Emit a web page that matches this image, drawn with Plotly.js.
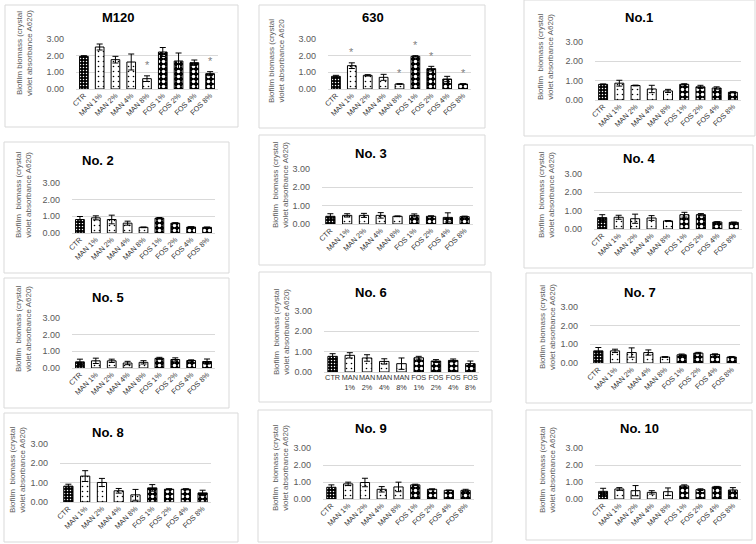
<!DOCTYPE html>
<html><head><meta charset="utf-8">
<script src="https://cdn.plot.ly/plotly-3.0.1.min.js"></script>
<style>html,body{margin:0;padding:0;background:#fff}#chart{width:756px;height:544px}</style>
</head><body><div id="chart"></div>
<script>
// ---- data ----
const categories = ['CTR','MAN 1%','MAN 2%','MAN 4%','MAN 8%','FOS 1%','FOS 2%','FOS 4%','FOS 8%'];
const wrappedTicks = ['CTR','MAN<br>1%','MAN<br>2%','MAN<br>4%','MAN<br>8%','FOS<br>1%','FOS<br>2%','FOS<br>4%','FOS<br>8%'];
const groups = ['ctr','man','man','man','man','fos','fos','fos','fos'];
const yTicks = [0,1,2,3];
const yTickText = ['0.00','1.00','2.00','3.00'];

const m120Mean = [1.96,2.52,1.76,1.62,0.62,2.22,1.68,1.58,0.92];
const m120Sd   = [0.04,0.18,0.20,0.48,0.17,0.27,0.48,0.16,0.12];
const m120Sig  = [0,0,0,0,1,0,0,0,1];
const s630Mean = [0.76,1.40,0.82,0.70,0.30,1.96,1.22,0.60,0.30];
const s630Sd   = [0.06,0.17,0.04,0.18,0.02,0.04,0.14,0.16,0.02];
const s630Sig  = [0,1,0,0,1,1,1,0,1];
const no1Mean  = [0.81,0.87,0.75,0.57,0.47,0.81,0.68,0.62,0.40];
const no1Sd    = [0.02,0.15,0.02,0.19,0.08,0.03,0.08,0.06,0.03];
const no2Mean  = [0.81,0.91,0.81,0.59,0.34,0.89,0.59,0.36,0.34];
const no2Sd    = [0.18,0.12,0.26,0.12,0.02,0.04,0.03,0.02,0.02];
const no3Mean  = [0.42,0.47,0.47,0.47,0.42,0.47,0.42,0.36,0.40];
const no3Sd    = [0.14,0.09,0.11,0.15,0.02,0.08,0.03,0.25,0.03];
const no4Mean  = [0.62,0.64,0.56,0.60,0.44,0.78,0.78,0.38,0.36];
const no4Sd    = [0.16,0.11,0.25,0.13,0.02,0.13,0.06,0.02,0.02];
const no5Mean  = [0.37,0.43,0.43,0.30,0.34,0.58,0.51,0.45,0.39];
const no5Sd    = [0.16,0.16,0.10,0.10,0.10,0.06,0.10,0.04,0.15];
const no6Mean  = [0.77,0.82,0.69,0.52,0.41,0.70,0.54,0.57,0.41];
const no6Sd    = [0.13,0.13,0.16,0.13,0.28,0.07,0.07,0.07,0.13];
const no7Mean  = [0.65,0.65,0.56,0.56,0.32,0.44,0.53,0.46,0.32];
const no7Sd    = [0.18,0.09,0.25,0.14,0.02,0.04,0.04,0.03,0.03];
const no8Mean  = [0.82,1.34,1.01,0.58,0.37,0.73,0.66,0.66,0.47];
const no8Sd    = [0.10,0.28,0.21,0.12,0.28,0.17,0.03,0.03,0.14];
const no9Mean  = [0.69,0.89,0.97,0.57,0.71,0.83,0.57,0.51,0.51];
const no9Sd    = [0.14,0.10,0.25,0.16,0.28,0.04,0.03,0.02,0.06];
const no10Mean = [0.45,0.59,0.49,0.39,0.43,0.77,0.55,0.71,0.53];
const no10Sd   = [0.18,0.08,0.30,0.10,0.22,0.06,0.05,0.03,0.14];
const noSig    = [0,0,0,0,0,0,0,0,0];

// ---- layout geometry (pixels) ----
const W = 756, H = 544;
const panels = [
  {title:'M120',  mean:m120Mean, sd:m120Sd, sig:m120Sig, box:[5,5,238,127],    px:[76,218],  py:[39,89],   tt:[118,18],  yt:[25,53],  ylab:'Biofilm biomass (crystal<br>violet absorbance A620)'},
  {title:'630',   mean:s630Mean, sd:s630Sd, sig:s630Sig, box:[259,5,485,128],  px:[328,471], py:[39,89],   tt:[373,18],  yt:[276,61], ylab:'Biofilm biomass (crystal<br>violet absorbance A620'},
  {title:'No.1',  mean:no1Mean,  sd:no1Sd,  sig:noSig,   box:[524,0,755,136],  px:[595,741], py:[42,100],  tt:[639,17],  yt:[546,57], ylab:'Biofilm  biomass (crystal<br>violet absorbance A620)'},
  {title:'No. 2', mean:no2Mean,  sd:no2Sd,  sig:noSig,   box:[4,142,229,273],  px:[72,215],  py:[183,233], tt:[98,160],  yt:[24,195], ylab:'Biofilm  biomass (crystal<br>violet absorbance A620)'},
  {title:'No. 3', mean:no3Mean,  sd:no3Sd,  sig:noSig,   box:[259,135,485,265],px:[322,473], py:[169,224], tt:[371,153], yt:[280,185],ylab:'Biofilm  biomass (crystal<br>violet absorbance A620)'},
  {title:'No. 4', mean:no4Mean,  sd:no4Sd,  sig:noSig,   box:[524,145,753,268],px:[594,742], py:[174,229], tt:[639,158], yt:[547,195],ylab:'Biofilm  biomass (crystal<br>violet absorbance A620)'},
  {title:'No. 5', mean:no5Mean,  sd:no5Sd,  sig:noSig,   box:[4,278,229,408],  px:[72,215],  py:[318,368], tt:[108,297], yt:[23,329], ylab:'Biofilm  biomass (crystal<br>violet absorbance A620)'},
  {title:'No. 6', mean:no6Mean,  sd:no6Sd,  sig:noSig,   box:[259,272,491,402],px:[324,479], py:[311,372], tt:[371,292], yt:[281,332],ylab:'Biofilm  biomass (crystal<br>violet absorbance A620)', wrap:true},
  {title:'No. 7', mean:no7Mean,  sd:no7Sd,  sig:noSig,   box:[526,273,752,403],px:[590,740], py:[307,363], tt:[640,292], yt:[547,327],ylab:'Biofilm biomass (crystal<br>violet absorbance A620)'},
  {title:'No. 8', mean:no8Mean,  sd:no8Sd,  sig:noSig,   box:[4,413,238,542],  px:[60,211],  py:[444,502], tt:[108,432], yt:[17,470], ylab:'Biofilm  biomass (crystal<br>violet absorbance A620)'},
  {title:'No. 9', mean:no9Mean,  sd:no9Sd,  sig:noSig,   box:[258,410,492,542],px:[323,474], py:[448,499], tt:[371,428], yt:[280,468],ylab:'Biofilm  biomass (crystal<br>violet absorbance A620)'},
  {title:'No. 10',mean:no10Mean, sd:no10Sd, sig:noSig,   box:[526,410,752,540],px:[595,741], py:[448,499], tt:[639,428], yt:[547,470],ylab:'Biofilm  biomass (crystal<br>violet absorbance A620)'}
];

const style = {
  ctr:{bg:'#000000', fg:'#ffffff', size:3, sol:0.2},
  man:{bg:'#ffffff', fg:'#000000', size:5, sol:0.08},
  fos:{bg:'#000000', fg:'#ffffff', size:5, sol:0.38}
};

const FONT = 'Liberation Sans, Arial, sans-serif';
const fx = p => p / W, fy = p => 1 - p / H;

const traces = [];
const layout = {
  width: W, height: H, margin:{l:0,r:0,t:0,b:0},
  paper_bgcolor:'#ffffff', plot_bgcolor:'rgba(0,0,0,0)',
  showlegend:false, hovermode:false, bargap:0.45, barmode:'overlay',
  font:{family:FONT, color:'#595959'},
  shapes:[], annotations:[]
};

panels.forEach((p, i) => {
  const n = i + 1;
  const xa = 'x' + (n === 1 ? '' : n), ya = 'y' + (n === 1 ? '' : n);
  layout.shapes.push({type:'rect', xref:'paper', yref:'paper', layer:'below',
    x0:fx(p.box[0]), x1:fx(p.box[2]), y0:fy(p.box[3]), y1:fy(p.box[1]),
    line:{color:'#d9d9d9', width:1}, fillcolor:'#ffffff'});
  ['ctr','man','fos'].forEach(g => {
    const idx = categories.map((c, k) => k).filter(k => groups[k] === g);
    const s = style[g];
    traces.push({
      type:'bar', x:idx.map(k => categories[k]), y:idx.map(k => p.mean[k]), xaxis:xa, yaxis:ya,
      marker:{
        color:s.bg, line:{color:'#000000', width:1},
        pattern:{shape:'.', fillmode:'replace', bgcolor:s.bg, fgcolor:s.fg, size:s.size, solidity:s.sol}
      },
      error_y:{type:'data', array:idx.map(k => p.sd[k]), visible:true, color:'#000000', thickness:1, width:3}
    });
  });
  // significance asterisks
  p.sig.forEach((s, k) => {
    if (s) layout.annotations.push({xref:xa, yref:ya, x:categories[k], y:p.mean[k] + p.sd[k] + 0.62,
      text:'*', showarrow:false, xanchor:'center', yanchor:'middle',
      font:{size:11, color:'#7f7f7f', family:FONT}});
  });

  const xKey = 'xaxis' + (n === 1 ? '' : n), yKey = 'yaxis' + (n === 1 ? '' : n);
  layout[xKey] = {
    domain:[fx(p.px[0]), fx(p.px[1])], anchor:ya, type:'category',
    categoryorder:'array', categoryarray:categories,
    tickmode:'array', tickvals:categories, ticktext:p.wrap ? wrappedTicks : categories,
    tickangle:p.wrap ? 0 : -45, tickfont:{size:7.3, color:'#333333', family:FONT},
    showgrid:false, showline:false, zeroline:false, ticks:'', fixedrange:true
  };
  layout[yKey] = {
    domain:[fy(p.py[1]), fy(p.py[0])], anchor:xa, range:[0,3],
    tickmode:'array', tickvals:yTicks, ticktext:yTickText,
    tickfont:{size:9, color:'#595959', family:FONT}, ticklabelstandoff:11,
    showgrid:true, gridcolor:'#d9d9d9', gridwidth:1,
    zeroline:true, zerolinecolor:'#d9d9d9', zerolinewidth:1,
    showline:false, ticks:'', fixedrange:true
  };
  layout.annotations.push({xref:'paper', yref:'paper', x:fx(p.tt[0]), y:fy(p.tt[1]),
    xanchor:'center', yanchor:'middle', showarrow:false, text:'<b>' + p.title + '</b>',
    font:{size:13, color:'#000000', family:FONT}});
  layout.annotations.push({xref:'paper', yref:'paper', x:fx(p.yt[0]), y:fy(p.yt[1]),
    xanchor:'center', yanchor:'middle', showarrow:false, textangle:-90, text:p.ylab,
    font:{size:8, color:'#595959', family:FONT}});
});

Plotly.newPlot('chart', traces, layout, {displayModeBar:false, staticPlot:true});
</script></body></html>
